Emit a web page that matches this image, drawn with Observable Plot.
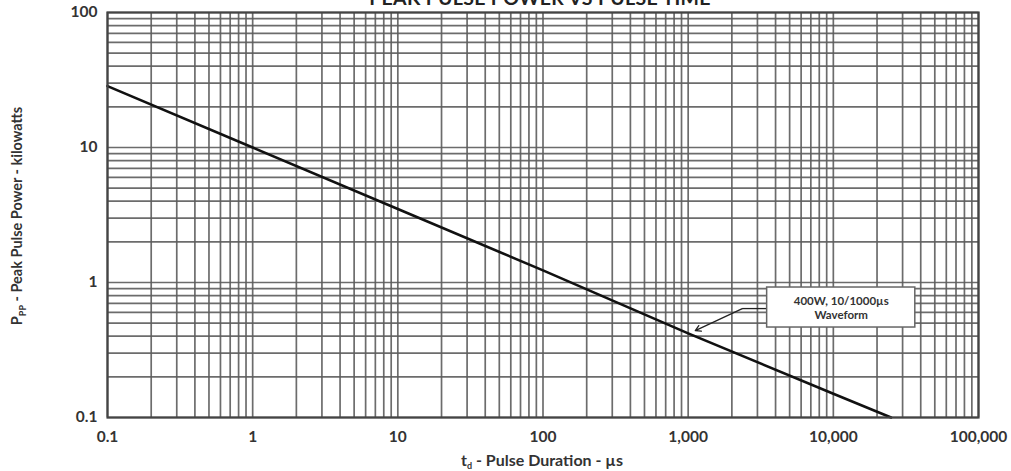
<!DOCTYPE html>
<html>
<head>
<meta charset="utf-8">
<script src="https://cdn.jsdelivr.net/npm/d3@7"></script>
<script src="https://cdn.jsdelivr.net/npm/@observablehq/plot@0.6"></script>
<style>
  html, body { margin: 0; padding: 0; background: #fff; }
  #wrap { position: relative; width: 1011px; height: 471px; overflow: hidden; }
  #title { position: absolute; top: -14px; left: 0; width: 1080px; text-align: center;
    font-family: Lato, sans-serif; font-weight: bold; font-size: 19.5px; color: #222; letter-spacing: 0.3px; }
</style>
</head>
<body>
<div id="wrap">
  <div id="chart"></div>
  <div id="title">PEAK PULSE POWER VS PULSE TIME</div>
</div>
<script>
// ---- data ----
const pulseDuration = [0.1, 1, 10, 100, 1000, 10000, 25000];   // µs
const peakPower     = [28.5, 10, 3.5, 1.23, 0.42, 0.15, 0.1];  // kW

const xTickValues = [0.1, 1, 10, 100, 1000, 10000, 100000];
const xTickLabels = ["0.1", "1", "10", "100", "1,000", "10,000", "100,000"];
const yTickValues = [0.1, 1, 10, 100];
const yTickLabels = ["0.1", "1", "10", "100"];

const noteLines = ["400W, 10/1000µs", "Waveform"];
// annotation anchor (data coordinates)
const noteBox = {x1: 3500, x2: 36700, y1: 0.464, y2: 0.918};
const noteLeader = {x1: 3500, x2: 2360, y: 0.641};
const noteArrow = {x1: 2360, y1: 0.641, x2: 1120, y2: 0.44};

const curve = pulseDuration.map((d, i) => ({t: d, p: peakPower[i]}));
const xGrid = d3.scaleLog().domain([0.1, 100000]).ticks();
const yGrid = d3.scaleLog().domain([0.1, 100]).ticks();

const xFmt = new Map(xTickValues.map((v, i) => [v, xTickLabels[i]]));
const yFmt = new Map(yTickValues.map((v, i) => [v, yTickLabels[i]]));

const gridColor = "#5c5c5c";

const chart = Plot.plot({
  width: 1011,
  height: 471,
  marginLeft: 107,
  marginRight: 33,
  marginTop: 12,
  marginBottom: 54,
  style: {fontFamily: "Lato, sans-serif", fontSize: "15.5px", fontWeight: "bold", color: "#333", background: "white"},
  x: {type: "log", domain: [0.1, 100000], ticks: xTickValues, tickFormat: d => xFmt.get(d), tickSize: 0, tickPadding: 13, label: null},
  y: {type: "log", domain: [0.1, 100], ticks: yTickValues, tickFormat: d => yFmt.get(d), tickSize: 0, tickPadding: 10, label: null},
  marks: [
    Plot.ruleX(xGrid, {stroke: gridColor, strokeWidth: 1.7, strokeOpacity: 0.9}),
    Plot.ruleY(yGrid, {stroke: gridColor, strokeWidth: 1.7, strokeOpacity: 0.9}),
    Plot.line(curve, {x: "t", y: "p", stroke: "#111", strokeWidth: 2.6}),
    Plot.link([noteLeader], {x1: "x1", x2: "x2", y1: "y", y2: "y", stroke: "#222", strokeWidth: 1.3}),
    Plot.arrow([noteArrow], {x1: "x1", y1: "y1", x2: "x2", y2: "y2", stroke: "#222", strokeWidth: 1.3, headLength: 7, bend: false}),
    Plot.rect([noteBox], {x1: "x1", x2: "x2", y1: "y1", y2: "y2", fill: "white", stroke: "#666", strokeWidth: 1.5}),
    Plot.text([noteLines.join("\n")], {x: Math.sqrt(noteBox.x1 * noteBox.x2), y: Math.sqrt(noteBox.y1 * noteBox.y2), text: d => d, fontSize: 11.5, fill: "#333", lineHeight: 1.25}),
    Plot.frame({stroke: "#444", strokeWidth: 2.2})
  ]
});

document.getElementById("chart").appendChild(chart);

// axis titles with subscripts
const svg = d3.select(chart);
const yl = svg.append("text")
  .attr("transform", "translate(22,216) rotate(-90)")
  .attr("text-anchor", "middle")
  .attr("fill", "#333")
  .style("font-family", "Lato, sans-serif")
  .style("font-weight", "bold")
  .style("font-size", "14.5px");
yl.append("tspan").text("P");
yl.append("tspan").attr("dy", 4).style("font-size", "9px").text("PP");
yl.append("tspan").attr("dy", -4).text(" - Peak Pulse Power - kilowatts");

const xl = svg.append("text")
  .attr("x", 542).attr("y", 466)
  .attr("text-anchor", "middle")
  .attr("fill", "#333")
  .style("font-family", "Lato, sans-serif")
  .style("font-weight", "bold")
  .style("font-size", "16px");
xl.append("tspan").text("t");
xl.append("tspan").attr("dy", 3).style("font-size", "9px").text("d");
xl.append("tspan").attr("dy", -3).text(" - Pulse Duration - µs");
</script>
</body>
</html>
